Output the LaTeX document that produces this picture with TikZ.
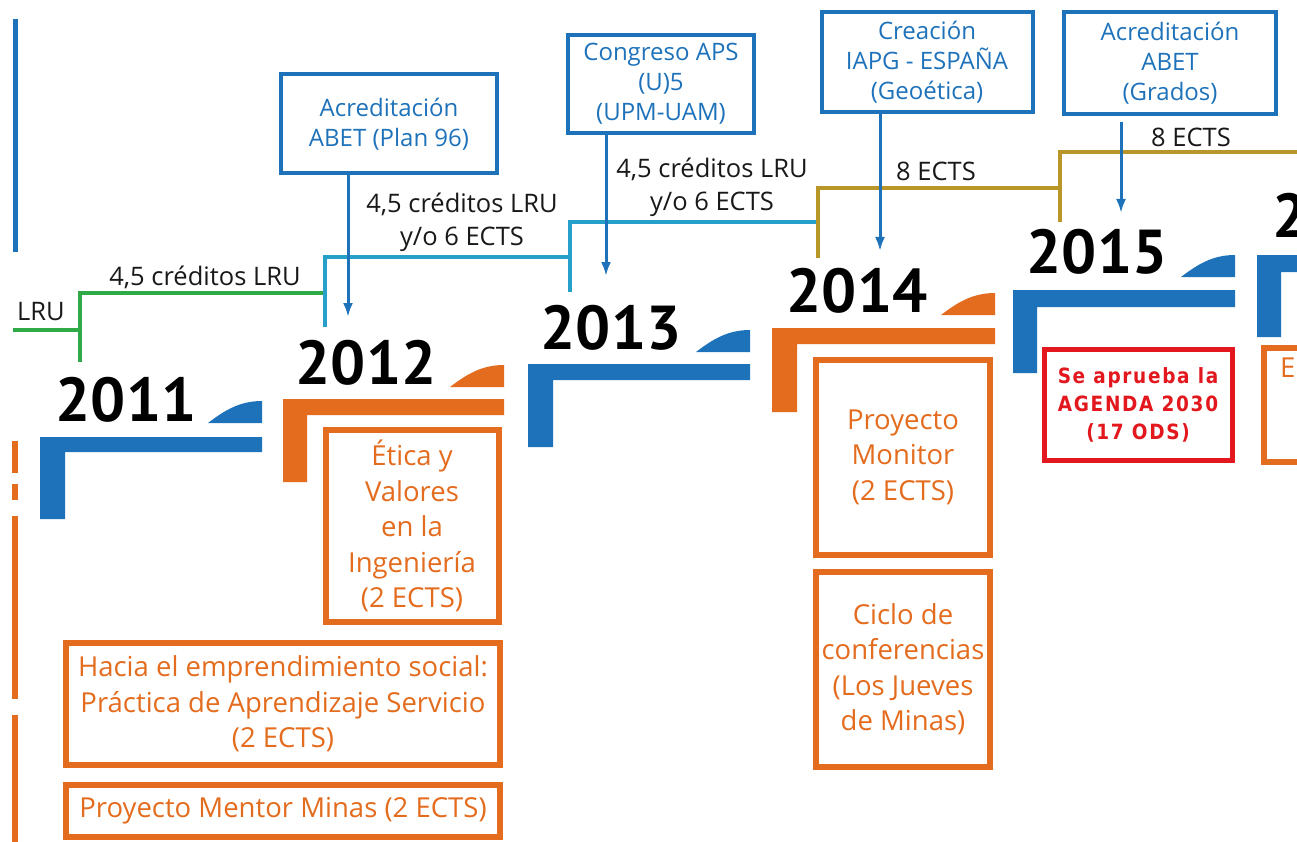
\documentclass[tikz,border=0pt]{standalone}
\usepackage{fontspec}
\setmainfont{Open Sans}
\newfontfamily\yearfont{PT Sans}
\newfontfamily\redfont[FakeStretch=0.88, LetterSpace=8]{DejaVu Sans}
\usetikzlibrary{arrows.meta, positioning}

\definecolor{aBlue}{RGB}{30,114,186}
\definecolor{aOrange}{RGB}{228,108,30}
\definecolor{aTeal}{RGB}{38,160,200}
\definecolor{aGreen}{RGB}{48,170,70}
\definecolor{aOlive}{RGB}{184,150,40}
\definecolor{aRed}{RGB}{226,24,30}
\definecolor{aInk}{RGB}{25,25,25}

\begin{document}
\begin{tikzpicture}[x=1pt, y=-1pt,
    bluebox/.style={draw=aBlue, line width=4pt, text=aBlue, align=center, inner sep=0pt, font=\fontsize{24}{30}\selectfont},
    orangebox/.style={draw=aOrange, line width=6pt, text=aOrange, align=center, inner sep=0pt, font=\fontsize{27.5}{35.5}\selectfont},
    redbox/.style={draw=aRed, line width=5pt, text=aRed, align=center, inner sep=0pt, font=\redfont\bfseries\fontsize{21}{28}\selectfont},
    credits/.style={text=aInk, align=center, inner sep=0pt, font=\fontsize{25.5}{33}\selectfont},
    year/.style={text=black, inner sep=0pt, font=\yearfont\bfseries\fontsize{62}{62}\selectfont},
    link/.style={aBlue, line width=3pt, -{Latex[length=14pt, width=10pt]}},
    bar/.style={line width=4pt}]

    \useasboundingbox (0,0) rectangle (1297,842);
    \clip (0,0) rectangle (1297,842);
    \fill[white] (0,0) rectangle (1297,842);

    % Left edge
    \draw[aBlue, line width=5pt] (15,19) -- (15,252);
    \draw[aOrange, line width=6pt] (15,441) -- (15,473) (15,484) -- (15,500) (15,516) -- (15,699) (15,715) -- (15,842);

    % Credit lines
    \draw[aGreen, bar] (13,330) -- (80,330) (80,362) -- (80,293) -- (325,293);
    \draw[aTeal, bar] (325,327) -- (325,257) -- (570,257) (570,292) -- (570,222) -- (818,222);
    \draw[aOlive, bar] (818,258) -- (818,188) -- (1060,188) (1060,222) -- (1060,152) -- (1297,152);

    \node[credits, anchor=east] (lru) at (65,312) {LRU};
    \node[credits] (cred1) at (205,277) {4,5 créditos LRU};
    \node[credits] (cred2) at (462,222) {4,5 créditos LRU\\y/o 6 ECTS};
    \node[credits] (cred3) at (712,187) {4,5 créditos LRU\\y/o 6 ECTS};
    \node[credits] (ects1) at (936,171) {8 ECTS};
    \node[credits] (ects2) at (1191,137) {8 ECTS};

    % Years
    \fill[aBlue] (40,437) -- (262,437) -- (262,452) -- (65,452) -- (65,519) -- (40,519) -- cycle;
    \fill[aBlue] (262,423) -- (208,423) .. controls (225,410) and (240,401) .. (262,401) -- cycle;
    \node[year] (y2011) at (126,400) {2011};

    \fill[aOrange] (283,399) -- (504,399) -- (504,415) -- (307,415) -- (307,482) -- (283,482) -- cycle;
    \fill[aOrange] (504,387) -- (450,387) .. controls (467,374) and (482,365) .. (504,365) -- cycle;
    \node[year] (y2012) at (366,363) {2012};

    \fill[aBlue] (528,364) -- (750,364) -- (750,380) -- (553,380) -- (553,447) -- (528,447) -- cycle;
    \fill[aBlue] (750,352) -- (696,352) .. controls (713,339) and (728,330) .. (750,330) -- cycle;
    \node[year] (y2013) at (611,328) {2013};

    \fill[aOrange] (772,328) -- (995,328) -- (995,344) -- (797,344) -- (797,412) -- (772,412) -- cycle;
    \fill[aOrange] (995,315) -- (941,315) .. controls (958,302) and (973,293) .. (995,293) -- cycle;
    \node[year] (y2014) at (857,291) {2014};

    \fill[aBlue] (1013,290) -- (1235,290) -- (1235,307) -- (1037,307) -- (1037,373) -- (1013,373) -- cycle;
    \fill[aBlue] (1235,277) -- (1181,277) .. controls (1198,264) and (1213,255) .. (1235,255) -- cycle;
    \node[year] (y2015) at (1097,252) {2015};

    \fill[aBlue] (1257,255) -- (1479,255) -- (1479,272) -- (1281,272) -- (1281,337) -- (1257,337) -- cycle;
    \node[year, anchor=west] (y2016) at (1272,216) {2016};

    % Events
    \node[bluebox, minimum width=216pt, minimum height=99pt] (abet96) at (389,124) {Acreditación\\ABET (Plan 96)};
    \node[bluebox, minimum width=186pt, minimum height=98pt] (congreso) at (661,84) {Congreso APS\\(U)5\\(UPM-UAM)};
    \node[bluebox, minimum width=211pt, minimum height=100pt] (iapg) at (927,62) {Creación\\IAPG - ESPAÑA\\(Geoética)};
    \node[bluebox, minimum width=212pt, minimum height=102pt] (abetgr) at (1170,63) {Acreditación\\ABET\\(Grados)};

    \coordinate (t2012) at (348,317);
    \coordinate (t2013) at (606,276);
    \coordinate (t2014) at (880,251);
    \coordinate (t2015) at (1121,213);

    \draw[link] (abet96.south -| t2012) -- (t2012);
    \draw[link] (congreso.south -| t2013) -- (t2013);
    \draw[link] (iapg.south -| t2014) -- (t2014);
    \draw[link, shorten <=6pt] (abetgr.south -| t2015) -- (t2015);

    % Subjects
    \node[orangebox, minimum width=173pt, minimum height=192pt] (etica) at (412,526) {Ética y\\Valores\\en la\\Ingeniería\\(2 ECTS)};
    \node[orangebox, minimum width=434pt, minimum height=122pt] (hacia) at (283,704) {Hacia el emprendimiento social:\\Práctica de Aprendizaje Servicio\\(2 ECTS)};
    \node[orangebox, minimum width=434pt, minimum height=52pt] (mentor) at (283,811) {Proyecto Mentor Minas (2 ECTS)};
    \node[orangebox, minimum width=174pt, minimum height=195pt] (monitor) at (903,457) {Proyecto\\Monitor\\(2 ECTS)};
    \node[orangebox, minimum width=174pt, minimum height=195pt] (ciclo) at (903,669) {Ciclo de\\conferencias\\(Los Jueves\\de Minas)};
    \node[redbox, minimum width=188pt, minimum height=111pt] (agenda) at (1138,405) {Se aprueba la\\AGENDA 2030\\(17 ODS)};
    \node[orangebox, minimum width=174pt, minimum height=114pt] (box2016) at (1351,405) {};
    \node[text=aOrange, inner sep=0pt, font=\fontsize{27.5}{35.5}\selectfont, anchor=north west] (e2016) at (1280,358) {E};
\end{tikzpicture}
\end{document}
